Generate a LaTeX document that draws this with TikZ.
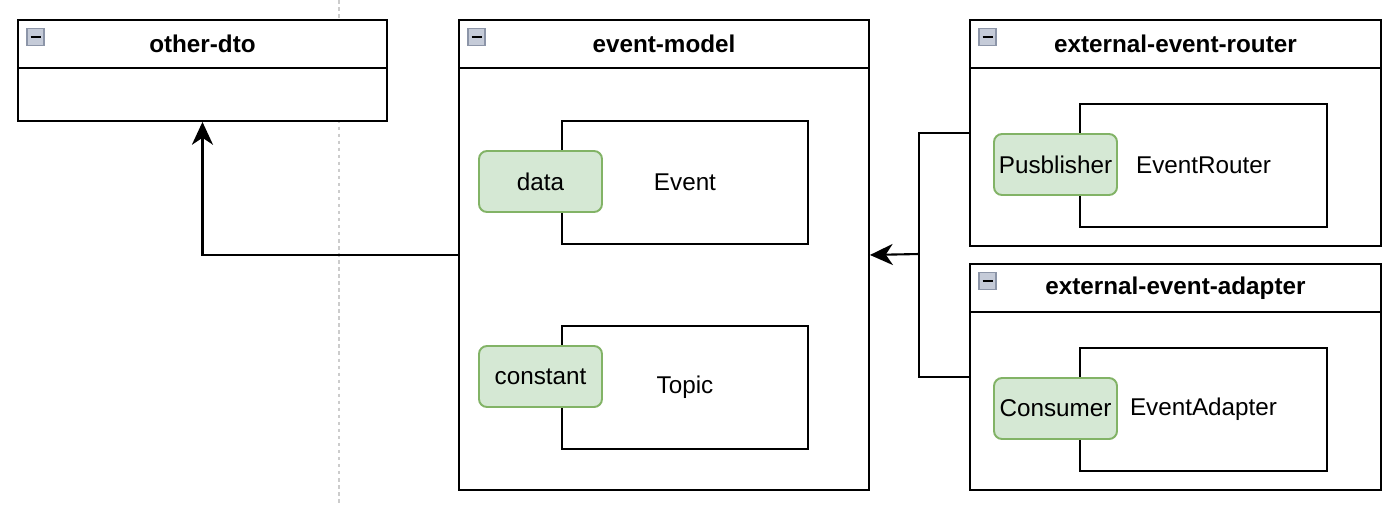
\documentclass[tikz,border=0pt]{standalone}
\usepackage{fontspec}
\setmainfont{Liberation Sans}
\usepackage{xcolor}
\usepackage{tikz}
\usetikzlibrary{arrows.meta}
\usetikzlibrary{positioning}
\definecolor{boxgreen}{HTML}{D5E8D4}
\definecolor{boxgreenline}{HTML}{82B366}
\definecolor{icongray}{HTML}{C5CBD8}
\definecolor{iconline}{HTML}{8C95A8}
\tikzstyle{container} = [rectangle, draw=black, line width=1.1pt, fill=white, anchor=north west, inner sep=0pt]
\tikzstyle{header} = [rectangle, draw=black, line width=1.1pt, anchor=north west, minimum height=0.96cm, inner sep=0pt, font=\fontsize{13.8}{16}\selectfont\bfseries]
\tikzstyle{component} = [rectangle, draw=black, line width=1.1pt, fill=white, anchor=north west, minimum width=4.92cm, minimum height=2.46cm, inner sep=0pt]
\tikzstyle{port} = [rectangle, rounded corners=0.16cm, draw=boxgreenline, line width=1.1pt, fill=boxgreen, minimum width=2.46cm, minimum height=1.22cm, inner sep=0pt]
\tikzstyle{icon} = [rectangle, draw=iconline, line width=0.6pt, fill=icongray, minimum size=0.34cm, inner sep=0pt,
  path picture={\draw[line width=1.2pt, black] ([xshift=-0.1cm]path picture bounding box.center) -- ([xshift=0.1cm]path picture bounding box.center);}]
\tikzstyle{flow} = [line width=1.2pt, -{Stealth[length=13pt, width=12pt, inset=4pt]}]
\tikzstyle{link} = [line width=1.2pt]

\begin{document}
\begin{tikzpicture}[y=-1cm, font=\fontsize{13.8}{16}\selectfont]
    \useasboundingbox[fill=white] (0,0) rectangle (27.78,10.12);
    \draw[gray!40, line width=0.6pt, dash pattern=on 2pt off 2pt] (6.78,0) -- (6.78,10.12);

    % containers
    \node (dto) [container, minimum width=7.38cm, minimum height=2.02cm] at (0.34,0.38) {};
    \node (dtohead) [header, minimum width=7.38cm] at (dto.north west) {other-dto};
    \node (model) [container, minimum width=8.2cm, minimum height=9.4cm] at (9.16,0.38) {};
    \node (modelhead) [header, minimum width=8.2cm] at (model.north west) {event-model};
    \node (router) [container, minimum width=8.22cm, minimum height=4.52cm] at (19.38,0.38) {};
    \node (routerhead) [header, minimum width=8.22cm] at (router.north west) {external-event-router};
    \node (adapter) [container, minimum width=8.22cm, minimum height=4.52cm] at (19.38,5.26) {};
    \node (adapterhead) [header, minimum width=8.22cm] at (adapter.north west) {external-event-adapter};

    \node (dtoicon) [icon] at (0.71,0.74) {};
    \node (modelicon) [icon] at (9.53,0.74) {};
    \node (routericon) [icon] at (19.75,0.74) {};
    \node (adaptericon) [icon] at (19.75,5.62) {};

    % components
    \node (event) [component] at (11.22,2.4) {Event};
    \node (data) [port] at (10.81,3.63) {data};
    \node (topic) [component] at (11.22,6.5) {Topic};
    \node (constant) [port] at (10.81,7.53) {constant};
    \node (eventrouter) [component, minimum width=4.94cm] at (21.58,2.06) {EventRouter};
    \node (publisher) [port] at (21.11,3.29) {Pusblisher};
    \node (eventadapter) [component, minimum width=4.94cm] at (21.58,6.94) {EventAdapter};
    \node (consumer) [port] at (21.11,8.17) {Consumer};

    \coordinate (join) at (18.38,5.08);
    \draw[flow] (model.west) -| (dto.south);
    \draw[link] (router.west) -| (join);
    \draw[link] (adapter.west) -| (join);
    \draw[flow] (join) -- (model.east);
\end{tikzpicture}
\end{document}
